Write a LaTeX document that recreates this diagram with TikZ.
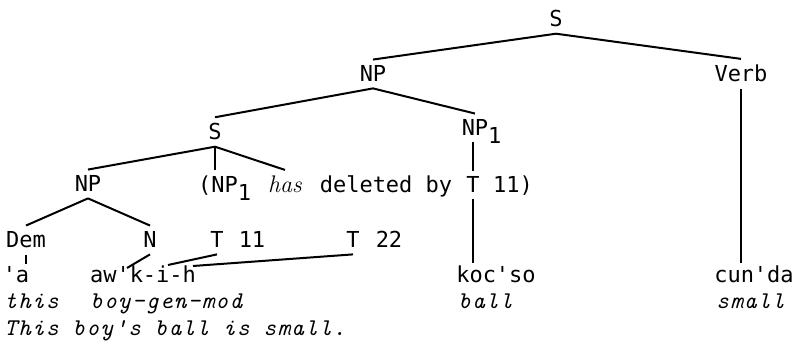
\documentclass[tikz,border=0pt]{standalone}
\usepackage{fontspec}
\newfontfamily\treefont{DejaVu Sans Mono}
\newfontfamily\glossfont{lmmono10-italic.otf}[LetterSpace=5.5]

\tikzset{
  lab/.style={font=\treefont\fontsize{11}{13}\selectfont,inner sep=3pt,anchor=base},
  word/.style={lab,inner sep=1.5pt},
  gloss/.style={font=\glossfont\fontsize{12}{14}\selectfont,inner sep=0pt,anchor=base west},
  edge/.style={line width=1pt}
}

\begin{document}
\begin{tikzpicture}[x=0.5pt,y=-0.5pt]
        \useasboundingbox (0,0) rectangle (800,351);

        % upper tree
        \node[lab] (s) at (556,27){S};
        \node[lab] (np) at (373,82){NP};
        \node[lab] (verb) at (741,82){Verb};
        \node[lab] (sm) at (215,140){S};
        \node[lab] (npr) at (475,136){NP\rlap{\smash{\raisebox{-4pt}{1}}}};
        \node[lab] (npl) at (88,192){NP};

        % deleted NP remark
        \node[lab] (npdel) at (218,193){(NP\rlap{\smash{\raisebox{-4pt}{1}}}};
        \node[lab,font=\rmfamily\itshape\fontsize{12}{14}\selectfont] (has) at (285,193){has};
        \node[lab] (delby) at (386,193){deleted by};
        \node[lab] (tdel) at (473,193){T};
        \node[lab] (tdelnum) at (513,193){11)};

        % lower tree
        \node[lab] (dem) at (26,248){Dem};
        \node[lab] (n) at (150,248){N};
        \node[lab] (t11) at (217,248){T};
        \node[lab] (t11num) at (252,248){11};
        \node[lab] (t22) at (353,248){T};
        \node[lab] (t22num) at (389,248){22};

        % words
        \node[word] (aa) at (16,283){'a};
        \node[word] (awkih) at (143,283){aw'k-i-h};
        \node[word] (kocso) at (496,283){koc'so};
        \node[word] (cunda) at (754,283){cun'da};
        \coordinate (awk) at (127,268);
        \coordinate (awi) at (168,265);
        \coordinate (awh) at (193,266);

        % glosses
        \node[gloss] (this) at (4,309){this};
        \node[gloss] (boy) at (90,309){boy-gen-mod};
        \node[gloss] (ball) at (458,309){ball};
        \node[gloss] (small) at (716,309){small};
        \node[gloss] (sentence) at (4,336){This boy's ball is small.};

        \draw[edge] (s.south) -- (np.north);
        \draw[edge] (s.south) -- (verb.north);
        \draw[edge] (np.south) -- (sm.north);
        \draw[edge] (np.south) -- (npr.north);
        \draw[edge] (verb.south) -- (verb.south |- cunda.north);
        \draw[edge] (sm.south) -- (npl.north);
        \draw[edge] (sm.south) -- (sm.south |- npdel.north);
        \draw[edge] (sm.south) -- (has.north);
        \draw[edge] (npr.south -| tdel) -- (tdel.north);
        \draw[edge] (tdel.south) -- (tdel |- kocso.north);
        \draw[edge] (npl.south) -- (dem.north);
        \draw[edge] (npl.south) -- (n.north);
        \draw[edge] (dem.south) -- (dem.south |- aa.north);
        \draw[edge] (n.south) -- (awk);
        \draw[edge] (t11.south) -- (awi);
        \draw[edge] (t22.south) -- (awh);
    \end{tikzpicture}
\end{document}
